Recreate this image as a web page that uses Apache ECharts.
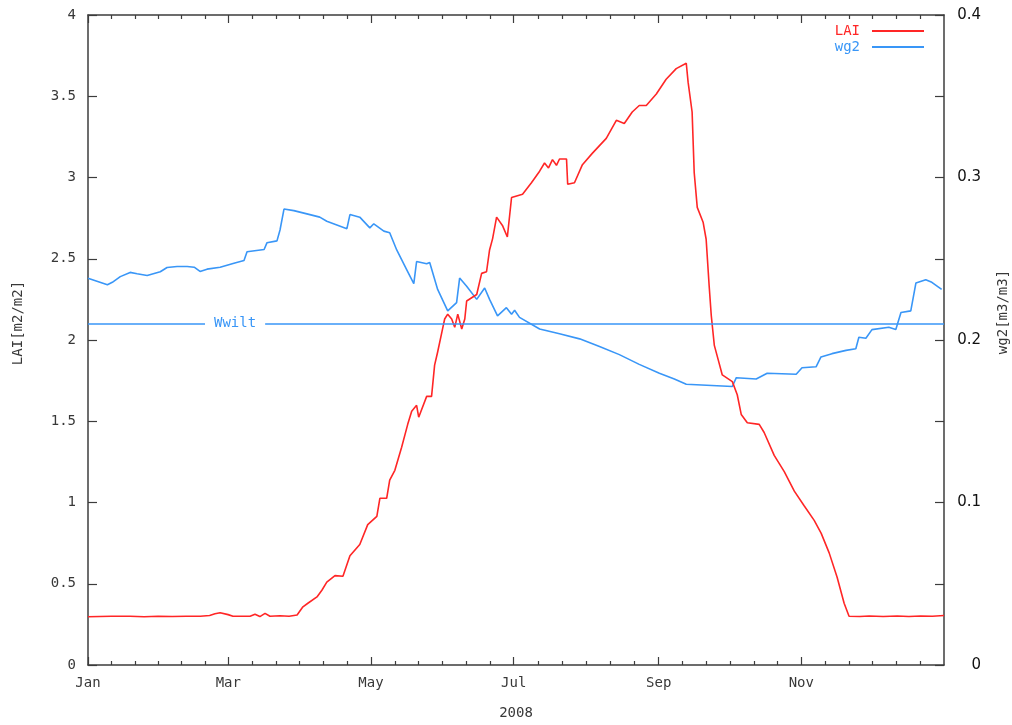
<!DOCTYPE html>
<html>
<head>
<meta charset="utf-8">
<title>LAI and wg2, 2008</title>
<script src="https://cdn.jsdelivr.net/npm/echarts@6/dist/echarts.min.js"></script>
<style>
  html, body { margin: 0; padding: 0; background: #fff; }
  #chart { width: 1012px; height: 725px; }
</style>
</head>
<body>
<div id="chart"></div>
<script>
// Time is counted in days since 1 Jan 2008 (leap year, 366 days).
const yearLength = 366;
const tickMonths = ['Jan', 'Mar', 'May', 'Jul', 'Sep', 'Nov'];
const tickDays = [0, 60, 121, 182, 244, 305];
const laiTicks = [0, 0.5, 1, 1.5, 2, 2.5, 3, 3.5, 4];
const wg2Labels = [0, 0.1, 0.2, 0.3, 0.4];
const wiltingPoint = 0.213;

// Leaf area index (m2/m2)
const laiDays = [0, 10, 18, 24, 30, 36, 42, 48, 52, 54.3, 56.5, 59.9, 62, 65, 69.3, 71.4, 73.5, 75.7, 77.8, 82.1,
  86, 89.4, 91.9, 94, 97.9, 100, 102.1, 105.6, 109, 112, 116.2, 119.6, 123.5, 124.8, 127.7, 129, 131.2, 134.1,
  136.7, 138.4, 140.5, 141.4, 144.8, 146.9, 148.2, 149.5, 151.6, 152.5, 153.8, 155.5, 156.8, 158.1, 159.8,
  161.1, 161.9, 166.2, 168.3, 170.4, 171.7, 173, 174.7, 177.2, 179.3, 181.1, 185.8, 189.6, 193.1, 195.2,
  196.9, 198.6, 200.3, 201.6, 204.6, 205.1, 208, 211.4, 215.7, 221.6, 225.9, 229.3, 232.7, 235.7, 238.7,
  243, 247.2, 251.5, 255.8, 256.6, 258.3, 259.2, 260.5, 263, 264.3, 265.6, 266.5, 267.8, 269.5, 271.2,
  275.5, 277.6, 279.3, 281.9, 287, 289.1, 293.4, 297.7, 302, 306.2, 310.5, 313.5, 316.9, 320.3, 323.3,
  325.4, 330, 334, 340, 346, 351, 356, 361, 366];
const laiValues = [0.297, 0.300, 0.300, 0.297, 0.300, 0.298, 0.300, 0.300, 0.305, 0.315, 0.322, 0.310, 0.300,
  0.300, 0.300, 0.312, 0.298, 0.318, 0.300, 0.303, 0.300, 0.308, 0.358, 0.380, 0.419, 0.460, 0.510, 0.550,
  0.546, 0.672, 0.742, 0.864, 0.915, 1.026, 1.026, 1.137, 1.198, 1.340, 1.481, 1.562, 1.598, 1.525, 1.653,
  1.653, 1.845, 1.926, 2.068, 2.129, 2.159, 2.129, 2.078, 2.159, 2.068, 2.129, 2.240, 2.280, 2.410, 2.420,
  2.554, 2.624, 2.756, 2.705, 2.634, 2.877, 2.897, 2.968, 3.039, 3.089, 3.059, 3.110, 3.075, 3.114, 3.114,
  2.958, 2.968, 3.079, 3.150, 3.241, 3.352, 3.332, 3.403, 3.443, 3.443, 3.514, 3.605, 3.670, 3.703, 3.585,
  3.403, 3.029, 2.816, 2.725, 2.620, 2.331, 2.149, 1.967, 1.876, 1.785, 1.744, 1.663, 1.542, 1.491, 1.481,
  1.431, 1.290, 1.190, 1.070, 0.980, 0.890, 0.810, 0.690, 0.540, 0.380, 0.300, 0.298, 0.302, 0.298, 0.302,
  0.298, 0.302, 0.300, 0.305];

// Root-zone soil moisture wg2 (m3/m3)
const wg2Days = [0, 8.3, 10.4, 13.8, 18, 21, 25.3, 30.9, 33.8, 38.1, 42.4, 45.4, 47.9, 50.9, 56.5, 62.4, 66.7,
  68, 75.3, 76.5, 80.8, 82.1, 83.8, 88, 93.6, 99.1, 102.1, 110.7, 112, 116.2, 120.5, 122.2, 126.5, 129,
  132, 136.3, 139.3, 140.5, 144.8, 146.1, 149.5, 153.8, 157.6, 158.9, 161.9, 166.2, 169.6, 171.7, 175.1,
  178.9, 181.1, 182.4, 184.5, 193.1, 201.6, 210.2, 218.7, 227.2, 235.7, 244.3, 250.7, 255.8, 275.5, 277.2,
  285.7, 290.4, 302.8, 305.3, 311.3, 313.4, 318.1, 324.1, 328.3, 329.6, 332.6, 335.2, 342.4, 345.4, 347.6,
  351.8, 354, 358.2, 360.8, 365];
const wg2Values = [0.2380, 0.2340, 0.2355, 0.2390, 0.2416, 0.2408, 0.2397, 0.2420, 0.2446, 0.2452, 0.2452,
  0.2448, 0.2422, 0.2436, 0.2448, 0.2472, 0.2489, 0.2543, 0.2557, 0.2598, 0.2610, 0.2677, 0.2806, 0.2796,
  0.2776, 0.2756, 0.2731, 0.2685, 0.2772, 0.2756, 0.2690, 0.2715, 0.2670, 0.2660, 0.2554, 0.2432, 0.2347,
  0.2483, 0.2469, 0.2477, 0.2311, 0.2179, 0.2230, 0.2381, 0.2331, 0.2250, 0.2320, 0.2250, 0.2149, 0.2199,
  0.2159, 0.2183, 0.2139, 0.2068, 0.2038, 0.2007, 0.1960, 0.1910, 0.1850, 0.1795, 0.1760, 0.1728, 0.1714,
  0.1768, 0.1760, 0.1795, 0.1789, 0.1829, 0.1835, 0.1896, 0.1916, 0.1936, 0.1946, 0.2017, 0.2011, 0.2064,
  0.2078, 0.2064, 0.2169, 0.2179, 0.2351, 0.2371, 0.2355, 0.2311];

const RED = '#ff2626';
const BLUE = '#3996f7';
const FRAME = '#3c3c3c';
const MONO = '"DejaVu Sans Mono", "Liberation Mono", monospace';
const TEXT = '#383838';

const zip = (xs, ys) => xs.map((x, i) => [x, ys[i]]);

// Minor ticks: five subdivisions between consecutive labelled months
const bounds = tickDays.concat([yearLength]);
const minorDays = [];
for (let i = 0; i < bounds.length - 1; i++) {
  for (let k = 1; k < 6; k++) minorDays.push(bounds[i] + (bounds[i + 1] - bounds[i]) * k / 6);
}

function timeAxis(position, ticks, len, withLine, withLabels) {
  const ax = {
    type: 'value', min: 0, max: yearLength, position: position,
    axisLine: { show: withLine, onZero: false, lineStyle: { color: FRAME, width: 1.5 } },
    axisTick: { show: true, inside: true, length: len, customValues: ticks,
      lineStyle: { color: FRAME, width: 1.2 } },
    axisLabel: { show: false },
    splitLine: { show: false }
  };
  if (withLabels) {
    ax.axisLabel = {
      show: true, customValues: tickDays, margin: 11,
      fontFamily: MONO, fontSize: 14, color: TEXT,
      formatter: v => tickMonths[tickDays.indexOf(v)]
    };
    ax.name = '2008';
    ax.nameLocation = 'middle';
    ax.nameGap = 41;
    ax.nameTextStyle = { fontFamily: MONO, fontSize: 14, color: TEXT };
  }
  return ax;
}

const chart = echarts.init(document.getElementById('chart'), null, { renderer: 'canvas' });

chart.setOption({
  animation: false,
  backgroundColor: '#fff',
  grid: { left: 88, right: 68, top: 15, bottom: 51, containLabel: false },
  legend: {
    right: 88, top: 24, orient: 'vertical', align: 'right', padding: 0,
    icon: 'rect', itemWidth: 52, itemHeight: 2, itemGap: 2,
    textStyle: { fontFamily: MONO, fontSize: 14, lineHeight: 14, padding: [0, 7, 0, 0] },
    data: [
      { name: 'LAI', textStyle: { color: RED } },
      { name: 'wg2', textStyle: { color: BLUE } }
    ]
  },
  xAxis: [
    timeAxis('bottom', tickDays, 8, true, true),
    timeAxis('bottom', minorDays, 4, false, false),
    timeAxis('top', tickDays, 8, true, false),
    timeAxis('top', minorDays, 4, false, false)
  ],
  yAxis: [
    {
      type: 'value', min: 0, max: 4, interval: 0.5, position: 'left',
      axisLine: { show: true, onZero: false, lineStyle: { color: FRAME, width: 1.5 } },
      axisTick: { show: true, inside: true, length: 9, lineStyle: { color: FRAME, width: 1.2 } },
      axisLabel: { margin: 12, fontFamily: MONO, fontSize: 14, color: TEXT,
        formatter: v => (laiTicks.indexOf(v) >= 0 ? String(v) : '') },
      splitLine: { show: false }
    },
    {
      type: 'value', min: 0, max: 0.4, interval: 0.05, position: 'right',
      axisLine: { show: true, onZero: false, lineStyle: { color: FRAME, width: 1.5 } },
      axisTick: { show: true, inside: true, length: 9, lineStyle: { color: FRAME, width: 1.2 } },
      axisLabel: {
        margin: 37, align: 'right',
        fontFamily: '"DejaVu Sans", Verdana, sans-serif', fontSize: 15, color: '#111',
        formatter: v => {
          const hit = wg2Labels.find(t => Math.abs(t - v) < 1e-6);
          if (hit === undefined) return '';
          return hit === 0 ? '0' : hit.toFixed(1);
        }
      },
      splitLine: { show: false }
    }
  ],
  graphic: [
    { type: 'text', x: 18, y: 323, rotation: Math.PI / 2,
      style: { text: 'LAI[m2/m2]', font: '14px ' + MONO, fill: TEXT, align: 'center', verticalAlign: 'middle' } },
    { type: 'text', x: 1003, y: 312, rotation: Math.PI / 2,
      style: { text: 'wg2[m3/m3]', font: '14px ' + MONO, fill: TEXT, align: 'center', verticalAlign: 'middle' } }
  ],
  series: [
    {
      name: 'LAI', type: 'line', xAxisIndex: 0, yAxisIndex: 0,
      data: zip(laiDays, laiValues),
      color: RED, showSymbol: false, symbol: 'none',
      lineStyle: { color: RED, width: 1.6 }, z: 3
    },
    {
      name: 'wg2', type: 'line', xAxisIndex: 0, yAxisIndex: 1,
      data: zip(wg2Days, wg2Values),
      color: BLUE, showSymbol: false, symbol: 'none',
      lineStyle: { color: BLUE, width: 1.6 }, z: 2,
      markLine: {
        silent: true, symbol: ['none', 'none'], animation: false,
        lineStyle: { color: BLUE, width: 1.6, type: 'solid' },
        label: {
          show: true, formatter: 'Wwilt', position: 'insideStartTop',
          distance: [117, 0], verticalAlign: 'middle',
          backgroundColor: '#fff', padding: [1, 9],
          fontFamily: MONO, fontSize: 14, color: BLUE
        },
        data: [{ yAxis: wiltingPoint }]
      }
    }
  ]
});
</script>
</body>
</html>
